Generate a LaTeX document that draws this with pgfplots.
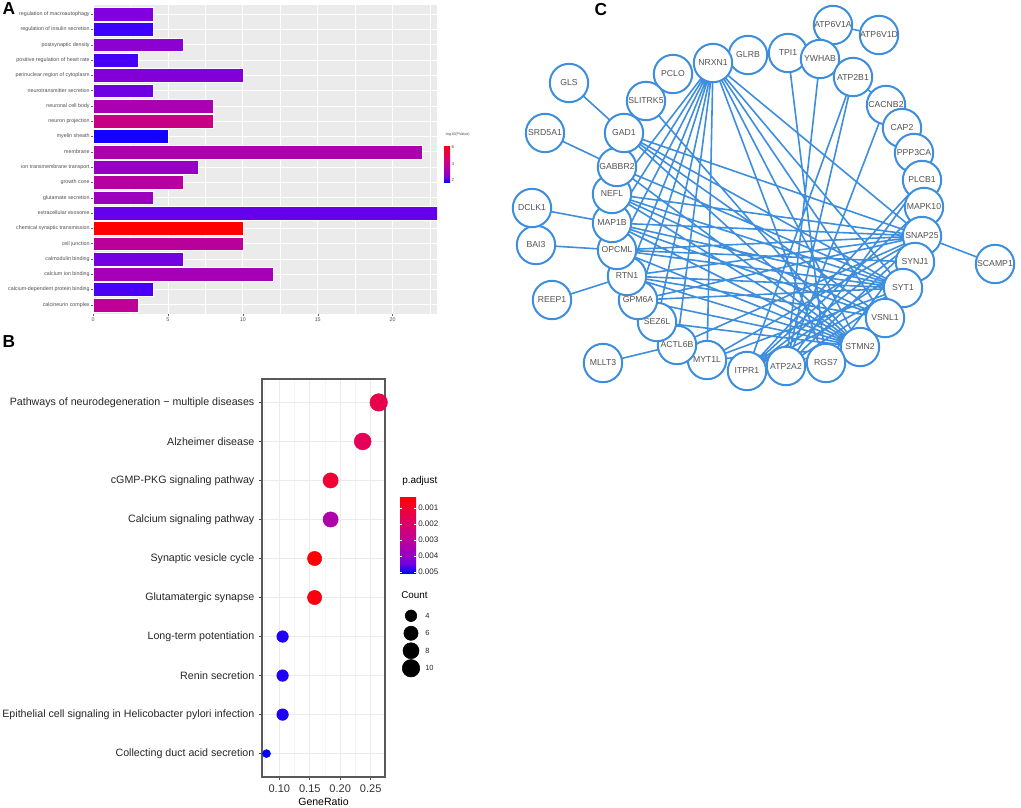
\documentclass[border=0pt]{standalone}
\usepackage{fontspec}
\setmainfont{Liberation Sans}
\usepackage{pgfplots}
\pgfplotsset{compat=1.18}
\usepackage{pgfplotstable}

\definecolor{nodeblue}{RGB}{62,142,222}
\definecolor{gtxt}{RGB}{77,77,77}
\pgfplotsset{
  /pgf/number format/assume math mode=true,
  colorbar shift/.style={},
  colormap={bluered}{rgb255(0cm)=(0,0,255) rgb255(1cm)=(115,0,224) rgb255(2cm)=(154,0,194) rgb255(4cm)=(202,0,136) rgb255(6cm)=(232,0,79) rgb255(8cm)=(255,0,0)},
  abar/.style={xbar, bar shift=0pt, bar width=0.9, draw=white, line width=0.3pt},
}

% panel B: KEGG enrichment
\pgfplotstableread{
idx ratio count padj
0 0.2632 10 0.0014
1 0.2368 9 0.0016
2 0.1842 7 0.0010
3 0.1842 7 0.0033
4 0.1579 6 0.00035
5 0.1579 6 0.0005
6 0.1053 4 0.0049
7 0.1053 4 0.0049
8 0.1053 4 0.0049
9 0.0789 3 0.00505
}\keggtab

\pgfplotstableread{
idx count
0 4
1 6
2 8
3 10
}\sizetab

% panel C: network nodes (pixel positions)
\pgfplotstableread{
x y name
833 25 ATP6V1A
879 35 ATP6V1D
788 53 TPI1
820 59 YWHAB
748 55 GLRB
713 63 NRXN1
673 74 PCLO
569 83 GLS
646 101 SLITRK5
853 77 ATP2B1
886 105 CACNB2
902 128 CAP2
914 153 PPP3CA
922 180 PLCB1
924 207 MAPK10
922 236 SNAP25
995 264 SCAMP1
915 262 SYNJ1
903 288 SYT1
885 318 VSNL1
860 347 STMN2
826 363 RGS7
786 366 ATP2A2
747 371 ITPR1
707 360 MYT1L
677 345 ACTL6B
657 322 SEZ6L
638 300 GPM6A
603 363 MLLT3
552 300 REEP1
627 276 RTN1
617 250 OPCML
536 245 BAI3
612 223 MAP1B
532 208 DCLK1
612 194 NEFL
617 167 GABBR2
624 133 GAD1
545 133 SRD5A1
}\nettab

\pgfplotstableread{
x y
569 83
624 133
nan nan
545 133
617 167
nan nan
532 208
612 223
nan nan
536 245
617 250
nan nan
552 300
627 276
nan nan
603 363
677 345
nan nan
922 236
995 264
nan nan
833 25
879 35
nan nan
833 25
820 59
nan nan
853 77
886 105
nan nan
673 74
646 101
nan nan
713 63
612 194
nan nan
713 63
612 223
nan nan
713 63
617 250
nan nan
713 63
627 276
nan nan
713 63
638 300
nan nan
713 63
657 322
nan nan
713 63
677 345
nan nan
713 63
707 360
nan nan
713 63
922 236
nan nan
713 63
903 288
nan nan
713 63
860 347
nan nan
713 63
885 318
nan nan
713 63
826 363
nan nan
624 133
922 236
nan nan
624 133
903 288
nan nan
624 133
860 347
nan nan
624 133
885 318
nan nan
646 101
860 347
nan nan
617 167
903 288
nan nan
617 167
860 347
nan nan
788 53
826 363
nan nan
820 59
786 366
nan nan
853 77
747 371
nan nan
853 77
786 366
nan nan
886 105
786 366
nan nan
922 180
747 371
nan nan
922 180
786 366
nan nan
924 207
747 371
nan nan
612 194
922 236
nan nan
612 194
903 288
nan nan
612 194
860 347
nan nan
612 194
885 318
nan nan
612 223
922 236
nan nan
612 223
903 288
nan nan
612 223
860 347
nan nan
612 223
885 318
nan nan
617 250
922 236
nan nan
617 250
915 262
nan nan
617 250
903 288
nan nan
617 250
860 347
nan nan
627 276
922 236
nan nan
627 276
903 288
nan nan
627 276
860 347
nan nan
627 276
885 318
nan nan
638 300
922 236
nan nan
638 300
860 347
nan nan
638 300
903 288
nan nan
657 322
860 347
nan nan
677 345
922 236
nan nan
707 360
860 347
nan nan
707 360
922 236
nan nan
707 360
903 288
nan nan
747 371
922 236
nan nan
747 371
903 288
nan nan
747 371
915 262
nan nan
747 371
860 347
nan nan
786 366
922 236
nan nan
786 366
903 288
nan nan
826 363
922 236
nan nan
903 288
860 347
}\edgetab

\begin{document}
\begin{tikzpicture}
\useasboundingbox (0,0) rectangle (765.75pt,-605.25pt);

% ---------------- panel A ----------------
\begin{axis}[
  at={(93*0.75pt,-5*0.75pt)}, anchor=north west,
  scale only axis, width=344*0.75pt, height=309*0.75pt,
  xmin=0, xmax=22.96, ymin=-0.6, ymax=19.6, y dir=reverse,
  axis background/.style={fill=black!8},
  axis line style={draw=none},
  xtick={0,5,10,15,20}, minor xtick={2.5,7.5,12.5,17.5,22.5},
  ytick={0,...,19},
  yticklabels={regulation of macroautophagy, regulation of insulin secretion, postsynaptic density,
    positive regulation of heart rate, perinuclear region of cytoplasm, neurotransmitter secretion,
    neuronal cell body, neuron projection, myelin sheath, membrane, ion transmembrane transport,
    growth cone, glutamate secretion, extracellular exosome, chemical synaptic transmission,
    cell junction, calmodulin binding, calcium ion binding, calcium-dependent protein binding,
    calcineurin complex},
  grid=both, major grid style={white, line width=0.6pt}, minor grid style={white, line width=0.3pt},
  tick pos=left, tick align=outside, major tick length=1.5pt, minor tick length=0pt,
  tick style={black!60, line width=0.3pt},
  ticklabel style={font=\fontsize{4}{4}\selectfont, text=gtxt, inner sep=0.8pt},
  colorbar, colormap name=bluered, point meta min=1.7, point meta max=6.3,
  colorbar style={
    at={(parent axis.north east)}, anchor=north west,
    xshift=7*0.75pt, yshift=-140*0.75pt,
    width=6*0.75pt, height=37*0.75pt,
    ytick={2,4,6}, major tick length=0pt,
    axis line style={draw=none},
    yticklabel style={font=\fontsize{3.3}{3.3}\selectfont, text=gtxt, inner sep=1pt},
    title={-log10(PValue)},
    title style={at={(0,1)}, anchor=south west, font=\fontsize{2.8}{2.8}\selectfont, text=gtxt, inner sep=0.6pt},
  },
]
\addplot[abar, fill={rgb,255:red,128;green,0;blue,224}] coordinates {(4,0)};
\addplot[abar, fill={rgb,255:red,60;green,0;blue,250}] coordinates {(4,1)};
\addplot[abar, fill={rgb,255:red,140;green,0;blue,210}] coordinates {(6,2)};
\addplot[abar, fill={rgb,255:red,70;green,0;blue,245}] coordinates {(3,3)};
\addplot[abar, fill={rgb,255:red,130;green,0;blue,215}] coordinates {(10,4)};
\addplot[abar, fill={rgb,255:red,110;green,0;blue,228}] coordinates {(4,5)};
\addplot[abar, fill={rgb,255:red,170;green,0;blue,178}] coordinates {(8,6)};
\addplot[abar, fill={rgb,255:red,200;green,0;blue,130}] coordinates {(8,7)};
\addplot[abar, fill={rgb,255:red,20;green,0;blue,255}] coordinates {(5,8)};
\addplot[abar, fill={rgb,255:red,172;green,0;blue,175}] coordinates {(22,9)};
\addplot[abar, fill={rgb,255:red,150;green,0;blue,195}] coordinates {(7,10)};
\addplot[abar, fill={rgb,255:red,182;green,0;blue,160}] coordinates {(6,11)};
\addplot[abar, fill={rgb,255:red,155;green,0;blue,190}] coordinates {(4,12)};
\addplot[abar, fill={rgb,255:red,100;green,0;blue,235}] coordinates {(23,13)};
\addplot[abar, fill={rgb,255:red,255;green,0;blue,0}] coordinates {(10,14)};
\addplot[abar, fill={rgb,255:red,185;green,0;blue,155}] coordinates {(10,15)};
\addplot[abar, fill={rgb,255:red,115;green,0;blue,225}] coordinates {(6,16)};
\addplot[abar, fill={rgb,255:red,165;green,0;blue,182}] coordinates {(12,17)};
\addplot[abar, fill={rgb,255:red,75;green,0;blue,245}] coordinates {(4,18)};
\addplot[abar, fill={rgb,255:red,190;green,0;blue,150}] coordinates {(3,19)};
\end{axis}

% ---------------- panel B ----------------
% colour meta is -p.adjust so that small p (red) sits at the top of the bar
\begin{axis}[
  at={(262*0.75pt,-379*0.75pt)}, anchor=north west,
  scale only axis, width=123*0.75pt, height=398*0.75pt,
  xmin=0.0715, xmax=0.2735, ymin=-0.6, ymax=9.6, y dir=reverse,
  clip mode=individual,
  xtick={0.10,0.15,0.20,0.25}, minor xtick={0.075,0.125,0.175,0.225},
  scaled x ticks=false,
  ytick={0,...,9},
  yticklabels={Pathways of neurodegeneration − multiple diseases, Alzheimer disease,
    cGMP-PKG signaling pathway, Calcium signaling pathway, Synaptic vesicle cycle,
    Glutamatergic synapse, Long-term potentiation, Renin secretion,
    Epithelial cell signaling in Helicobacter pylori infection, Collecting duct acid secretion},
  grid=both, major grid style={black!8, line width=0.6pt}, minor grid style={black!4, line width=0.3pt},
  axis line style={black!65, line width=0.8pt},
  tick pos=left, tick align=outside, major tick length=2.2pt, minor tick length=0pt,
  tick style={black!70, line width=0.5pt},
  xticklabel style={font=\fontsize{8.3}{8.3}\selectfont, text=black!80,
    /pgf/number format/.cd, fixed, fixed zerofill, precision=2},
  yticklabel style={font=\fontsize{8}{8}\selectfont, text=black!85},
  xlabel={GeneRatio}, xlabel style={font=\fontsize{7.9}{7.9}\selectfont, yshift=3pt},
  colorbar, colormap name=bluered, point meta min=-0.00506, point meta max=-0.00025,
  colorbar style={
    at={(parent axis.north east)}, anchor=north west,
    xshift=15*0.75pt, yshift=-117*0.75pt,
    width=16*0.75pt, height=77*0.75pt,
    scaled y ticks=false,
    ytick={-0.005,-0.004,-0.003,-0.002,-0.001},
    yticklabels={0.005,0.004,0.003,0.002,0.001},
    axis line style={draw=none},
    tick align=inside, ytick pos=both, major tick length=2.2*0.75pt,
    tick style={white, line width=0.5pt},
    yticklabel pos=right,
    yticklabel style={font=\fontsize{6}{6}\selectfont, text=black!85, inner sep=1.5pt},
    title={p.adjust},
    title style={at={(0,1)}, anchor=south west, font=\fontsize{7.5}{7.5}\selectfont, inner sep=1.5pt},
  },
]
\addplot[scatter, only marks, mark=*, point meta=explicit,
  scatter/use mapped color={draw=mapped color, fill=mapped color},
  visualization depends on={0.375*(8+9.5*sqrt((\thisrow{count}-3)/7)) \as \msz},
  scatter/@pre marker code/.append style={/tikz/mark size=\msz}]
  table[x=ratio, y=idx, meta expr=-\thisrow{padj}] {\keggtab};
\end{axis}

% size legend
\begin{axis}[
  at={(401*0.75pt,-607*0.75pt)}, anchor=north west,
  scale only axis, width=20*0.75pt, height=70*0.75pt,
  xmin=-1, xmax=1, ymin=-0.5, ymax=3.5, y dir=reverse, clip=false,
  axis line style={draw=none}, xtick=\empty,
  ytick={0,1,2,3}, yticklabels={4,6,8,10}, yticklabel pos=right,
  major tick length=0pt,
  yticklabel style={font=\fontsize{5.6}{5.6}\selectfont, text=black!85, inner sep=3pt},
  title={Count}, title style={at={(0,1)}, anchor=south west, font=\fontsize{7.4}{7.4}\selectfont, inner sep=0pt},
]
\addplot[scatter, only marks, mark=*,
  scatter/use mapped color={draw=black, fill=black},
  visualization depends on={0.375*(8+9.5*sqrt((\thisrow{count}-3)/7)) \as \msz},
  scatter/@pre marker code/.append style={/tikz/mark size=\msz}]
  table[x expr=0, y=idx] {\sizetab};
\end{axis}

% ---------------- panel C ----------------
\begin{axis}[
  at={(500*0.75pt,0pt)}, anchor=north west,
  scale only axis, width=521*0.75pt, height=400*0.75pt,
  xmin=500, xmax=1021, ymin=0, ymax=400, y dir=reverse,
  hide axis, clip=false,
]
\addplot[nodeblue, line width=1.2pt, unbounded coords=jump] table[x=x, y=y] {\edgetab};
\addplot[only marks, mark=*, mark size=14.4pt,
  mark options={fill=white, draw=nodeblue, line width=1.5pt},
  point meta=explicit symbolic,
  nodes near coords, nodes near coords align=center,
  every node near coord/.append style={font=\fontsize{6.5}{6.5}\selectfont, text=black!68, inner sep=0pt}]
  table[x=x, y=y, meta=name] {\nettab};
\end{axis}

% panel letters
\node[font=\bfseries\fontsize{13}{13}\selectfont] at (9*0.75pt,-9*0.75pt) {A};
\node[font=\bfseries\fontsize{13}{13}\selectfont] at (9*0.75pt,-342*0.75pt) {B};
\node[font=\bfseries\fontsize{13}{13}\selectfont] at (601*0.75pt,-10*0.75pt) {C};
\end{tikzpicture}
\end{document}
